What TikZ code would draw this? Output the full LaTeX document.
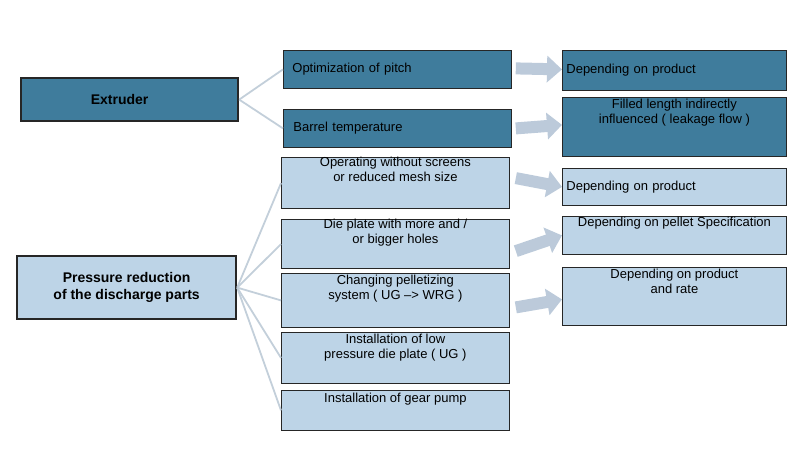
\documentclass[tikz,border=0pt]{standalone}
\usepackage{fontspec}
\setmainfont{Liberation Sans}
\usetikzlibrary{arrows.meta}
\definecolor{dk}{HTML}{3F7C9C}
\definecolor{lt}{HTML}{BDD4E7}
\definecolor{cn}{HTML}{C3CFDA}
\definecolor{ar}{HTML}{BCCADA}
\begin{document}
\begin{tikzpicture}[x=1pt,y=-1pt,
 box/.style={draw=black!85, line width=0.8pt, anchor=north west, font=\fontsize{13}{15}\selectfont, inner sep=0pt},
 dbox/.style={box, fill=dk},
 lbox/.style={box, fill=lt},
 head/.style={line width=2.2pt, font=\bfseries\fontsize{14}{17}\selectfont},
 con/.style={cn, line width=1.8pt},
 barr/.style={ar, line width=12pt, -{Triangle[width=26pt,length=15pt]}}]
\useasboundingbox (0,0) rectangle (800,450);
% heads
\node[dbox, head, minimum width=217, minimum height=43] (ex) at (20,77) {\hspace*{-20pt}Extruder};
\node[lbox, head, minimum width=219, minimum height=63, align=center] (pr) at (16,255) {Pressure reduction\\of the discharge parts};
% middle
\node[dbox, minimum width=228, minimum height=38, text width=210, align=left] (m1) at (283,50) {Optimization of pitch};
\node[dbox, minimum width=228, minimum height=38, text width=208, align=left] (m2) at (283,109) {\raisebox{-6pt}{Barrel temperature}};
\node[lbox, minimum width=228, minimum height=51, align=center] (m3) at (281,157) {Operating without screens\\or reduced mesh size\\[12pt]};
\node[lbox, minimum width=228, minimum height=49, align=center] (m4) at (281,219) {Die plate with more and /\\or bigger holes\\[10pt]};
\node[lbox, minimum width=228, minimum height=54, align=center] (m5) at (281,273) {Changing pelletizing\\system ( UG --{}> WRG )\\[12pt]};
\node[lbox, minimum width=228, minimum height=51, align=center] (m6) at (281,332) {Installation of low\\pressure die plate ( UG )\\[8pt]};
\node[lbox, minimum width=228, minimum height=40, align=center] (m7) at (281,390) {Installation of gear pump\\[10pt]};
% right
\node[dbox, minimum width=224, minimum height=40, text width=216, align=left] (r1) at (562,50) {Depending on product};
\node[dbox, minimum width=224, minimum height=59, align=center] (r2) at (562,97) {Filled length indirectly\\influenced ( leakage flow )\\[16pt]};
\node[lbox, minimum width=224, minimum height=37, text width=216, align=left] (r3) at (562,168) {Depending on product};
\node[lbox, minimum width=224, minimum height=38, align=center] (r4) at (562,216) {Depending on pellet Specification\\[12pt]};
\node[lbox, minimum width=224, minimum height=58, align=center] (r5) at (562,267) {Depending on product\\and rate\\[16pt]};
% connectors
\foreach \m in {m1,m2} \draw[con] (ex.east) -- (\m.west);
\foreach \m in {m3,m4,m5,m6,m7} \draw[con] (pr.east) -- (\m.west);
% block arrows
\draw[barr] ([xshift=4pt,yshift=1pt]m1.east) -- ([yshift=1pt]r1.west);
\draw[barr] ([xshift=4pt]m2.east) -- ([yshift=2pt]r2.west);
\draw[barr] ([xshift=6pt,yshift=5pt]m3.east) -- ([yshift=0pt]r3.west);
\draw[barr] ([xshift=6pt,yshift=-7pt]m4.east) -- ([yshift=0pt]r4.west);
\draw[barr] ([xshift=6pt,yshift=-7pt]m5.east) -- ([yshift=-3pt]r5.west);
\end{tikzpicture}
\end{document}
